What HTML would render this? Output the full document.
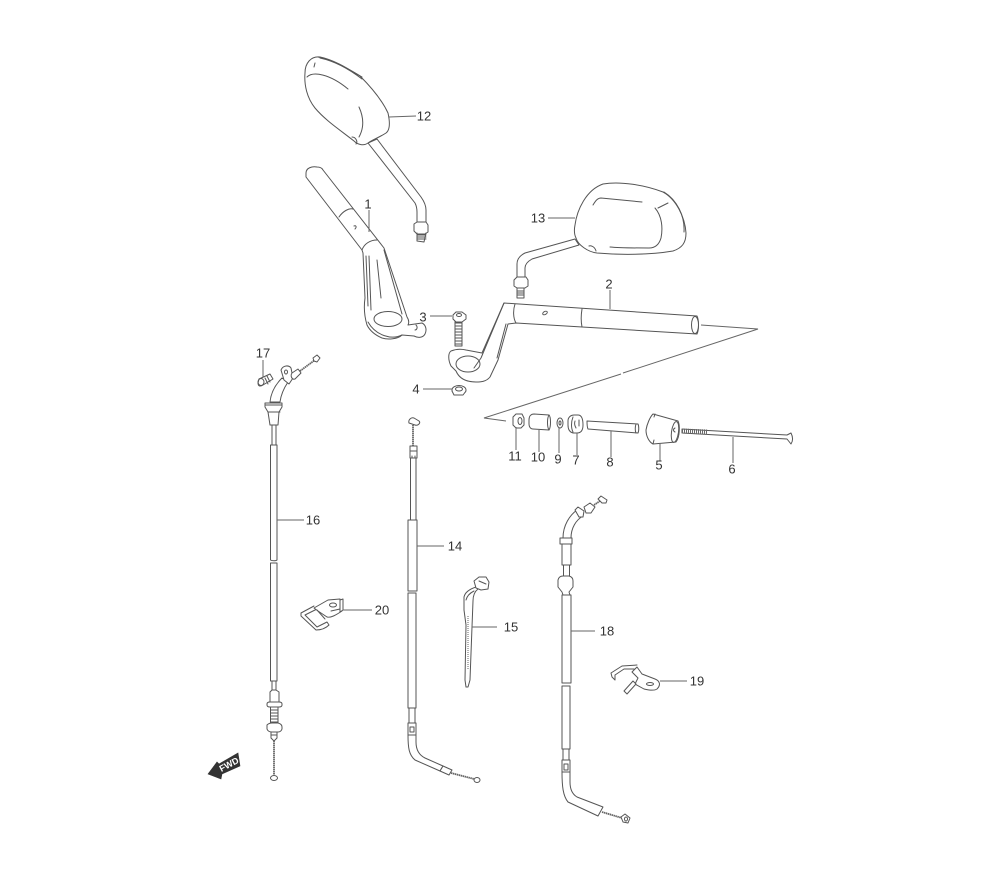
<!DOCTYPE html>
<html><head><meta charset="utf-8"><style>
html,body{margin:0;padding:0;background:#fff}
svg{display:block}
text{font-family:"Liberation Sans",sans-serif;font-size:13px;fill:#333;text-anchor:middle;dominant-baseline:central}
.p{fill:#fff;stroke:#555;stroke-width:1;stroke-linejoin:round;stroke-linecap:round}
.n{fill:none;stroke:#555;stroke-width:1;stroke-linecap:round;stroke-linejoin:round}
.l{fill:none;stroke:#666;stroke-width:1}
.w{fill:none;stroke:#666;stroke-width:1.800;stroke-dasharray:1.500 .5}
.t{fill:none;stroke:#666;stroke-width:5;stroke-dasharray:1 1}
</style></head><body>
<svg width="1000" height="880" viewBox="0 0 1000 880" xmlns="http://www.w3.org/2000/svg">
<rect width="1000" height="880" fill="#fff"/>

<!-- Mirror 12 -->
<path class="p" d="M368 143L415 203Q417 207 417 212V222H426V210Q426 204 421 197L377 139Z"/>
<path class="p" d="M305 73C305 63 311 56 320 57C335 60 350 70 360 76C372 88 382 100 388 113C390 122 390 130 386 133C380 137 372 140 368 143C364 146 358 145 354 141C340 130 325 120 315 108C307 98 304 85 305 73Z"/>
<path class="n" d="M318 57C332 60 347 68 362 77M320 58C334 61 349 69 362 79M315 63L314 67M307 77C313 71 330 74 348 89M359 107C364 118 364 128 359 137M352 137C356 137 358 142 356 144"/>
<path class="p" d="M414 224L417 222H426L428 225V232L425 234H417L414 231Z"/>
<path class="n" d="M417 233V241L424 242L426 233M417 235H426M417 237H426M417 239H426"/>
<path class="l" d="M389 117L416 116"/>

<!-- Grip 1 -->
<path class="p" d="M306 173C306 168 312 166 317 167C320 167 322 168 323 170L384 248L386 254L407 317C409 320 409 323 408 325L422 323C426 325 427 330 425 334C423 338 418 338 414 336L402 335C398 339 388 340 382 338C375 335 370 331 367 325C364 315 364 305 365 298L363 253L362 250L306 177Z"/>
<path class="n" d="M339 217C343 211 349 208 353 209M362 250C364 244 370 240 377 240M366 256L368 306M369 256L371 310M377 260L381 298M384 250L402 314M368 322C376 336 392 340 402 335"/>
<ellipse class="p" cx="388" cy="319" rx="14" ry="7.500"/>
<path class="n" d="M354 226C356 225 357 227 355 229M416 325C418 327 417 330 415 330"/>
<path class="l" d="M369 210V232"/>

<!-- Mirror 13 -->
<path class="p" d="M575 239L525 253Q517 257 517 264V277H525V268Q525 263 532 259L579 245Z"/>
<path class="p" d="M575 225C577 210 586 190 603 184C620 181 645 185 663 192C676 199 685 217 686 233C686 243 682 248 673 251C650 255 620 255 597 253C588 252 578 245 576 238C574 234 574 230 575 225Z"/>
<path class="n" d="M593 205C596 200 598 198 601 198L642 202M655 208C662 216 663 228 661 238C659 245 655 248 649 248C634 248 620 248 610 247M658 208L668 203M664 192C677 200 685 216 684 232M589 246C591 245 595 247 596 251"/>
<path class="p" d="M514 280L517 277H526L528 280V286L525 288H517L514 286Z"/>
<path class="n" d="M517 288V298L524 298V288M517 291H524M517 293H524M517 295H524"/>
<path class="l" d="M548 218H575"/>

<!-- Handlebar 2 -->
<path class="p" d="M504 303L697 316C699 320 699 330 697 334L516 323L508 324L498 360L490 377C486 382 480 382 476 382C466 382 459 378 456 371L451 366C448 360 448 353 451 351C456 349 462 349 466 350L482 353L504 303Z"/>
<ellipse class="p" cx="468" cy="364" rx="12" ry="8"/>
<path class="n" d="M515 304C513 310 513 318 516 323M582 309C581 315 581 322 582 327M504 303L481 358L474 368M497 358L506 324"/>
<ellipse class="p" cx="695" cy="325" rx="3.500" ry="8.500"/>
<ellipse class="n" cx="545" cy="313" rx="2.500" ry="1.500" transform="rotate(-30 545 313)"/>
<path class="l" d="M701 325L758 329L623 373M621 374L484 418L506 421"/>
<path class="l" d="M610 290V309"/>

<!-- 3, 4 -->
<path class="p" d="M455 320H462V346H455Z"/>
<path class="n" d="M455 323H462M455 326H462M455 329H462M455 332H462M455 335H462M455 338H462M455 341H462M455 344H462"/>
<path class="p" d="M453 315L456 312H462L466 315V319L462 322H456L453 319Z"/>
<ellipse class="n" cx="459" cy="315" rx="2.500" ry="1.500"/>
<ellipse class="p" cx="459" cy="390" rx="7" ry="4.500"/>
<path class="p" d="M452 391L454 395H463L466 391"/>
<ellipse class="n" cx="459" cy="389" rx="3.500" ry="2"/>
<path class="l" d="M430 316H452M423 389H452"/>

<!-- small parts row -->
<path class="p" d="M513 417L516 414H522L524 418V425L521 428H516L513 425Z"/>
<ellipse class="n" cx="520" cy="421" rx="2" ry="3.500"/>
<path class="p" d="M529 420C529 416 531 414 534 414L549 415C551 417 551 427 549 430L533 429C530 429 529 426 529 424Z"/>
<path class="n" d="M549 415C547 418 547 427 549 430"/>
<ellipse class="p" cx="560" cy="423" rx="3" ry="5"/>
<ellipse class="n" cx="560" cy="423" rx="1" ry="2"/>
<path class="p" d="M568 421C568 417 571 415 574 415H578C582 415 583 420 583 425C583 430 581 433 577 433H573C569 432 568 428 568 425Z"/>
<path class="n" d="M575 421C574 424 575 426 576 428M579 420V426M573 417C571 422 571 428 573 432"/>
<path class="p" d="M587 421L638 424C639 426 639 431 638 433L588 429C587 427 587 423 587 421Z"/>
<path class="n" d="M636 424C635 427 635 431 636 433"/>
<path class="p" d="M653 414L678 421C680 425 680 437 676 442L653 444C649 442 646 436 646 430C647 424 650 417 653 414Z"/>
<ellipse class="n" cx="675" cy="432" rx="3.500" ry="10.500" transform="rotate(8 675 432)"/>
<path class="n" d="M655 414L654 417M654 440L653 444M675 428C673 429 673 431 675 432"/>
<path class="p" d="M682 429L787 435L791 433C793 437 793 441 791 444L787 439L682 433Z"/>
<path class="t" d="M682 431L707 432"/>
<path class="l" d="M516 427V450M539 430V452M559 428V453M577 433V455M611 431V457M660 443V461M733 437V463"/>

<!-- Cable 16 -->
<path class="l" d="M263 360V378"/>
<path class="p" d="M259 379L270 374L273 379L263 385C260 387 258 386 258 383Z"/>
<ellipse class="n" cx="261" cy="382" rx="3" ry="3.500"/>
<path class="n" d="M265 378L268 384M267 376L270 382"/>
<path class="w" d="M300 371L315 360"/>
<path class="p" d="M313 358L317 355L320 358L317 362L314 361Z"/>
<path class="p" d="M270 402C271 392 276 384 282 378L288 382C284 388 281 394 280 402Z"/>
<path class="p" d="M281 370C283 365 289 365 291 368L293 378L289 384L284 380Z"/>
<ellipse class="n" cx="286" cy="372" rx="1.500" ry="2"/>
<path class="p" d="M292 373L298 369L301 373L295 379C292 380 290 376 292 373Z"/>
<path class="p" d="M265 403H282V407L279 412L278 425H270L268 412L265 407Z"/>
<path class="n" d="M265 405H282M268 412H280"/>
<path class="p" d="M272 425H276V445H272Z"/>
<path class="p" d="M270.500 445H277V560C276 561 272 561 270.500 560Z"/>
<path class="p" d="M270.500 563H277V681H270.500Z"/>
<path class="p" d="M272 681H276V690H272Z"/>
<path class="p" d="M270 692L272 690H276L279 692V703H270Z"/>
<path class="p" d="M267 704Q267 702 270 702H279Q282 702 282 704V705Q282 707 279 707H270Q267 707 267 705Z"/>
<path class="p" d="M270.500 707H278V724H270.500Z"/>
<path class="n" d="M271 710H278M271 713H278M271 716H278M271 719H278M271 722H278"/>
<path class="p" d="M267 725Q269 723 272 723H278Q282 724 282 727V729Q281 732 278 732H272Q268 732 267 729Z"/>
<path class="p" d="M271 732H277V738L274 741L271 738Z"/>
<path class="n" d="M271 735H277"/>
<path class="w" d="M274 741V775"/>
<ellipse class="p" cx="274" cy="778" rx="3.500" ry="2.500"/>
<path class="l" d="M277 520H304"/>

<!-- FWD -->
<path d="M208 774L217 762L219 764L238 753L240 766L222 774L221 779Z" fill="#333" stroke="#333" stroke-width=".6"/>
<text x="229" y="764.500" transform="rotate(-28 229 764.500)" style="font-size:9px;font-weight:bold;fill:#fff">FWD</text>

<!-- 20 clip -->
<path class="n" d="M314 606L301 613V616L316 630C321 630 326 628 329 625L327 622L317 627L305 615L317 609"/>
<path class="p" d="M314 608L328 600L340 599L342 611C336 615 331 618 327 617L318 611Z"/>
<path class="p" d="M340 600L343 599V610L340 612Z"/>
<ellipse class="n" cx="333" cy="605" rx="3.500" ry="2"/>
<path class="n" d="M317 610L325 619M331 611L340 609"/>
<path class="l" d="M343 610H372"/>

<!-- Cable 14 -->
<path class="p" d="M409 423C408 420 411 417 414 418L419 421C421 423 418 426 415 425Z"/>
<path class="w" d="M413 425V446"/>
<path class="p" d="M410 446H417V458H410Z"/>
<path class="n" d="M410 451H417M412 456V462M415 456V462"/>
<path class="p" d="M410.500 458H416V520H410.500Z"/>
<path class="p" d="M408 520H417V591H408Z"/>
<path class="p" d="M408 593H416V708H408Z"/>
<path class="p" d="M409 708H415V723H409Z"/>
<path class="p" d="M408 735C408 748 409 755 415 760L440 771L443 766L425 758C419 755 416 750 416 742V735Z"/>
<path class="p" d="M408 723H416V735H408Z"/>
<path class="n" d="M410 727V732H414V727Z"/>
<path class="p" d="M440 771L443 766L452 770L449 775Z"/>
<path class="w" d="M451 773L474 779"/>
<ellipse class="p" cx="477" cy="780" rx="3" ry="2.500"/>
<path class="l" d="M417 546H444"/>

<!-- 15 tie -->
<path class="p" d="M464 597C465 592 470 589 476 587L478 589C474 592 473 596 473 601L472 627L470 680L468 687H466L465 680L466 625L464 610Z"/>
<path class="p" d="M474 581L479 577H486L489 582L488 589L481 590L476 588Z"/>
<path class="n" d="M479 581L486 584M466 600C467 596 470 593 474 591"/>
<path class="l" d="M468 616V670" stroke-dasharray="1 1" stroke-width="2.500"/>
<path class="l" d="M472 627H497"/>

<!-- Cable 18 -->
<path class="w" d="M594 505L600 501"/>
<path class="p" d="M598 499L601 496L607 500L606 503L602 503Z"/>
<path class="p" d="M584 507L590 503L595 507L591 513L586 513Z"/>
<path class="p" d="M563 538C563 525 570 515 577 510L583 516C576 520 571 528 571 538Z"/>
<path class="p" d="M575 510L578 507L584 511L583 517L579 517Z"/>
<path class="p" d="M560 538H572V544H560Z"/>
<path class="p" d="M562 544H571V565H562Z"/>
<path class="p" d="M563.500 565H569.500V576H563.500Z"/>
<path class="p" d="M558 580Q559 576 563 576H569Q573 577 573 581V587L569 592L570 595H563L562 592L558 587Z"/>
<path class="p" d="M562 595H571V683H562Z"/>
<path class="p" d="M562 686H570V749H562Z"/>
<path class="p" d="M563 749H569V760H563Z"/>
<path class="p" d="M562 772C562 786 563 796 568 802L598 816L603 807L577 797C572 794 570 788 570 782V772Z"/>
<path class="p" d="M562 760H570V772H562Z"/>
<path class="n" d="M564 764V770H568V764Z"/>
<path class="w" d="M602 812L622 818"/>
<path class="p" d="M621 817L625 814L630 818L628 823L623 822Z"/>
<ellipse class="n" cx="626" cy="819" rx="1.500" ry="2"/>
<path class="l" d="M571 631H595"/>

<!-- 19 clip -->
<path class="n" d="M637 665L622 666L611 673L612 677L615 680L615 675L624 669H634"/>
<path class="p" d="M632 672L637 667L642 674L655 679C660 681 661 685 657 689C654 691 648 690 644 689L635 684L638 678Z"/>
<ellipse class="n" cx="650" cy="684" rx="3.500" ry="1.500"/>
<path class="p" d="M624 691L633 681L636 684L627 694Z"/>
<path class="l" d="M660 681H687"/>

<!-- labels -->
<text x="424" y="116">12</text>
<text x="538" y="218">13</text>
<text x="368" y="204">1</text>
<text x="609" y="284">2</text>
<text x="423" y="317">3</text>
<text x="416" y="389">4</text>
<text x="659" y="465">5</text>
<text x="732" y="469">6</text>
<text x="576" y="460">7</text>
<text x="610" y="462">8</text>
<text x="558" y="459">9</text>
<text x="538" y="457">10</text>
<text x="515" y="456">11</text>
<text x="263" y="353">17</text>
<text x="313" y="520">16</text>
<text x="455" y="546">14</text>
<text x="382" y="610">20</text>
<text x="511" y="627">15</text>
<text x="607" y="631">18</text>
<text x="697" y="681">19</text>
</svg>
</body></html>
